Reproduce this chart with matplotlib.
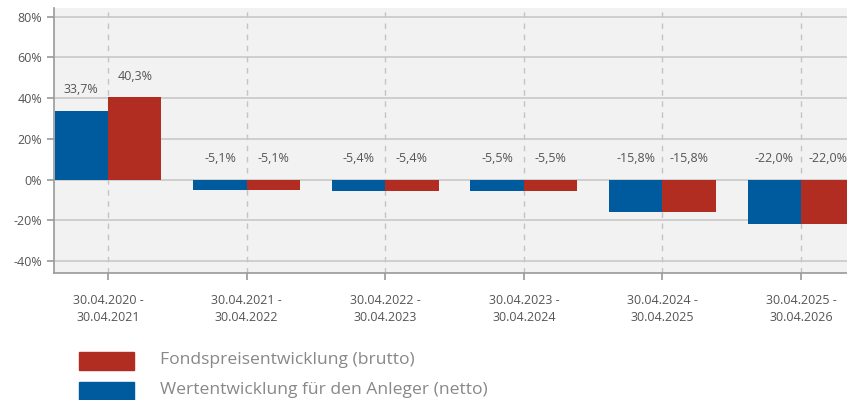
import matplotlib
matplotlib.use("Agg")
import matplotlib.pyplot as plt
from matplotlib.patches import Rectangle
import numpy as np

periods = ["30.04.2020 -\n30.04.2021", "30.04.2021 -\n30.04.2022", "30.04.2022 -\n30.04.2023",
           "30.04.2023 -\n30.04.2024", "30.04.2024 -\n30.04.2025", "30.04.2025 -\n30.04.2026"]
netto = [33.7, -5.1, -5.4, -5.5, -15.8, -22.0]
brutto = [40.3, -5.1, -5.4, -5.5, -15.8, -22.0]
series_names = ["Fondspreisentwicklung (brutto)", "Wertentwicklung für den Anleger (netto)"]
yticks = [-40, -20, 0, 20, 40, 60, 80]

BLUE = "#005a9e"
RED = "#b22d21"
GRID = "#c8c8c8"
TEXT = "#555555"

plt.rcParams['font.family'] = ['Open Sans', 'DejaVu Sans']

fig = plt.figure(figsize=(8.47, 4.0), dpi=100)
ax = fig.add_axes([54/847, 1 - 273/400, 1 - 54/847, 265/400])
ax.set_facecolor("#f1f2f1")

x = np.arange(len(periods))
w = 0.385
ax.bar(x - w/2, netto, width=w, color=BLUE, zorder=3)
ax.bar(x + w/2, brutto, width=w, color=RED, zorder=3)

def fmt(v):
    return f"{v:.1f}%".replace(".", ",")

for xi, vn, vb in zip(x, netto, brutto):
    ax.text(xi - w/2, max(vn, 0) + 10.3, fmt(vn), ha="center", va="center",
            fontsize=9, color=TEXT, zorder=4)
    ax.text(xi + w/2, max(vb, 0) + 10.3, fmt(vb), ha="center", va="center",
            fontsize=9, color=TEXT, zorder=4)

ax.set_xlim(-w - 0.005, 5 + 46/138.7)
ax.set_ylim(-45.9, 84.2)
ax.set_yticks(yticks)
ax.set_yticklabels([f"{t}%" for t in yticks])
ax.set_xticks(x)
ax.set_xticklabels(periods, linespacing=1.4)

ax.grid(axis="y", color=GRID, linewidth=1.2, zorder=1)
ax.grid(axis="x", color="#c4c4c4", linewidth=1.0, linestyle=(0, (4, 4)), zorder=1)

for s in ["top", "right"]:
    ax.spines[s].set_visible(False)
for s in ["left", "bottom"]:
    ax.spines[s].set_color("#999999")
    ax.spines[s].set_linewidth(1.2)

ax.tick_params(axis="both", colors="#999999", labelcolor=TEXT, labelsize=9, length=5, width=1.2)
ax.tick_params(axis="x", pad=10)

# legend below the chart
fig.patches.append(Rectangle((79/847, 1 - 370/400), 55/847, 18/400, transform=fig.transFigure,
                             color=RED, figure=fig))
fig.patches.append(Rectangle((79/847, 1 - 400/400), 55/847, 18/400, transform=fig.transFigure,
                             color=BLUE, figure=fig))
fig.text(160/847, 1 - 360/400, series_names[0], fontsize=12.6, color="#888888", va="center")
fig.text(160/847, 1 - 390/400, series_names[1], fontsize=12.6, color="#888888", va="center")

fig.savefig("out.png", dpi=100)
